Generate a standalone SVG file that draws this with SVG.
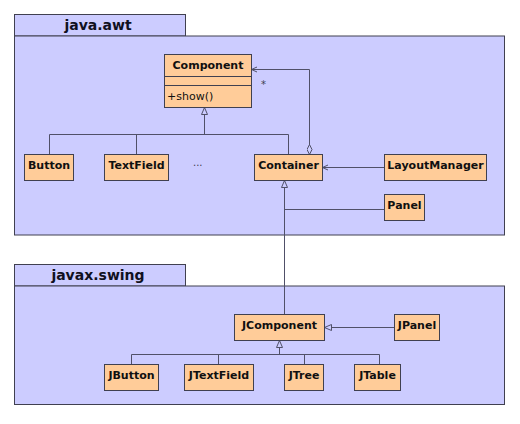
<svg xmlns="http://www.w3.org/2000/svg" width="520" height="424" viewBox="0 0 520 424">
<style>
.pkg{fill:#ccccff;stroke:#404050;stroke-width:1}
.ptitle{font-family:"DejaVu Sans",sans-serif;font-size:14px;font-weight:bold;fill:#101020;text-anchor:middle}
.cls{fill:#ffcc99;stroke:#404050;stroke-width:1}
.cname{font-family:"DejaVu Sans",sans-serif;font-size:11px;font-weight:bold;fill:#101010;text-anchor:middle}
.op{font-family:"DejaVu Sans",sans-serif;font-size:11px;fill:#101010}
.ln{fill:none;stroke:#505068;stroke-width:1}
.gen{marker-end:url(#tri)}
.dep{marker-end:url(#arr)}
.lbl{font-family:"DejaVu Sans",sans-serif;font-size:10px;fill:#404050}
</style>
<defs>
<marker id="tri" viewBox="0 0 8 8" refX="7.5" refY="3.5" markerWidth="8" markerHeight="8" markerUnits="userSpaceOnUse" orient="auto">
<path d="M0.5,0.5 L7.5,3.5 L0.5,6.5 Z" fill="#ccccff" stroke="#505068" stroke-width="1"/>
</marker>
<marker id="arr" viewBox="0 0 8 8" refX="7.5" refY="3.5" markerWidth="8" markerHeight="8" markerUnits="userSpaceOnUse" orient="auto">
<path d="M2,1 L7.5,3.5 L2,6" fill="none" stroke="#505068" stroke-width="1"/>
</marker>
<marker id="dia" viewBox="0 0 11 6" refX="0.5" refY="3" markerWidth="11" markerHeight="6" markerUnits="userSpaceOnUse" orient="auto">
<path d="M0.5,3 L5.5,0.5 L10.5,3 L5.5,5.5 Z" fill="#ccccff" stroke="#505068" stroke-width="1"/>
</marker>
</defs>

<g id="pkg-awt">
<rect class="pkg" x="14.5" y="14.5" width="171" height="21.5"/>
<rect class="pkg" x="14.5" y="36" width="490" height="199"/>
<text class="ptitle" x="98" y="29.5">java.awt</text>
</g>

<g id="pkg-swing">
<rect class="pkg" x="14.5" y="264.5" width="171" height="21.5"/>
<rect class="pkg" x="14.5" y="286" width="490" height="118.5"/>
<text class="ptitle" x="98" y="279.5">javax.swing</text>
</g>

<g id="connectors">
<path class="ln gen" d="M204.5,134.5 L204.5,107.5"/>
<path class="ln" d="M49.5,154.5 L49.5,134.5 L288.5,134.5 L288.5,154.5"/>
<path class="ln" d="M136.5,134.5 L136.5,154.5"/>
<path class="ln dep" d="M309.5,154.5 L309.5,69.5 L251.5,69.5" marker-start="url(#dia)"/>
<path class="ln dep" d="M384.5,167.5 L322.5,167.5"/>
<path class="ln gen" d="M284.5,314.5 L284.5,180.5"/>
<path class="ln" d="M384.5,209.5 L284.5,209.5"/>
<path class="ln gen" d="M394.5,327.5 L324.5,327.5"/>
<path class="ln gen" d="M279.5,354.5 L279.5,340.5"/>
<path class="ln" d="M131.5,364.5 L131.5,354.5 L379.5,354.5 L379.5,364.5"/>
<path class="ln" d="M218.5,354.5 L218.5,364.5"/>
<path class="ln" d="M304.5,354.5 L304.5,364.5"/>
<text class="lbl" x="261" y="88">*</text>
<text class="lbl" x="193" y="165.5">...</text>
</g>

<g id="Component">
<rect class="cls" x="164.5" y="54.5" width="87" height="53"/>
<line class="cls" x1="164.5" y1="76.5" x2="251.5" y2="76.5"/>
<line class="cls" x1="164.5" y1="85.5" x2="251.5" y2="85.5"/>
<text class="cname" x="208" y="68.5">Component</text>
<text class="op" x="167" y="99.5">+show()</text>
</g>

<g id="Button">
<rect class="cls" x="24.5" y="154.5" width="49" height="26"/>
<text class="cname" x="49" y="168.5">Button</text>
</g>

<g id="TextField">
<rect class="cls" x="104.5" y="154.5" width="64" height="26"/>
<text class="cname" x="136.5" y="168.5">TextField</text>
</g>

<g id="Container">
<rect class="cls" x="254.5" y="154.5" width="68" height="26"/>
<text class="cname" x="288.5" y="168.5">Container</text>
</g>

<g id="LayoutManager">
<rect class="cls" x="384.5" y="154.5" width="102" height="26"/>
<text class="cname" x="435.5" y="168.5">LayoutManager</text>
</g>

<g id="Panel">
<rect class="cls" x="384.5" y="194.5" width="40" height="26"/>
<text class="cname" x="404.5" y="208.5">Panel</text>
</g>

<g id="JComponent">
<rect class="cls" x="234.5" y="314.5" width="90" height="26"/>
<text class="cname" x="279.5" y="328.5">JComponent</text>
</g>

<g id="JPanel">
<rect class="cls" x="394.5" y="314.5" width="45" height="26"/>
<text class="cname" x="417" y="328.5">JPanel</text>
</g>

<g id="JButton">
<rect class="cls" x="104.5" y="364.5" width="54" height="26"/>
<text class="cname" x="131.5" y="378.5">JButton</text>
</g>

<g id="JTextField">
<rect class="cls" x="184.5" y="364.5" width="69" height="26"/>
<text class="cname" x="219" y="378.5">JTextField</text>
</g>

<g id="JTree">
<rect class="cls" x="284.5" y="364.5" width="39" height="26"/>
<text class="cname" x="304" y="378.5">JTree</text>
</g>

<g id="JTable">
<rect class="cls" x="354.5" y="364.5" width="46" height="26"/>
<text class="cname" x="377.5" y="378.5">JTable</text>
</g>
</svg>
